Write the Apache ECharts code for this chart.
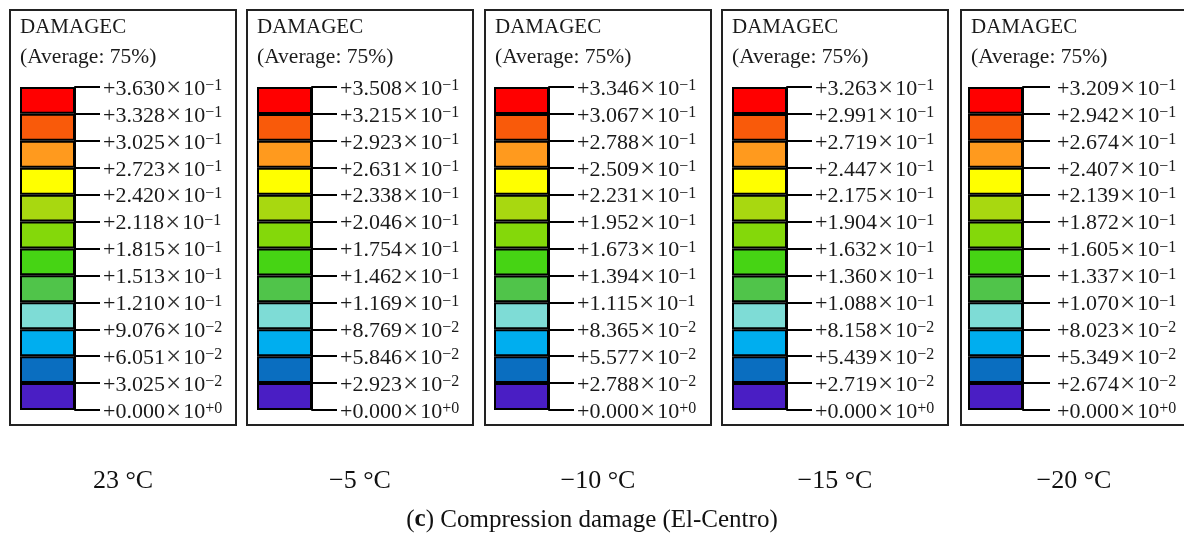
<!DOCTYPE html>
<html><head><meta charset="utf-8">
<script src="https://cdn.jsdelivr.net/npm/echarts@6/dist/echarts.min.js"></script>
<style>html,body{margin:0;padding:0;background:#fff}#c{width:1184px;height:545px}</style>
</head><body><div id="c"></div>
<script>
// ---- data ----
const temperatures = ['23 °C', '\u22125 °C', '\u221210 °C', '\u221215 °C', '\u221220 °C'];
const legendTitle = 'DAMAGEC';
const legendSub = '(Average: 75%)';
// contour level boundaries (bottom to top) for each temperature
const levels23 = [0, 3.025e-2, 6.051e-2, 9.076e-2, 1.210e-1, 1.513e-1, 1.815e-1, 2.118e-1, 2.420e-1, 2.723e-1, 3.025e-1, 3.328e-1, 3.630e-1];
const levelsM5 = [0, 2.923e-2, 5.846e-2, 8.769e-2, 1.169e-1, 1.462e-1, 1.754e-1, 2.046e-1, 2.338e-1, 2.631e-1, 2.923e-1, 3.215e-1, 3.508e-1];
const levelsM10 = [0, 2.788e-2, 5.577e-2, 8.365e-2, 1.115e-1, 1.394e-1, 1.673e-1, 1.952e-1, 2.231e-1, 2.509e-1, 2.788e-1, 3.067e-1, 3.346e-1];
const levelsM15 = [0, 2.719e-2, 5.439e-2, 8.158e-2, 1.088e-1, 1.360e-1, 1.632e-1, 1.904e-1, 2.175e-1, 2.447e-1, 2.719e-1, 2.991e-1, 3.263e-1];
const levelsM20 = [0, 2.674e-2, 5.349e-2, 8.023e-2, 1.070e-1, 1.337e-1, 1.605e-1, 1.872e-1, 2.139e-1, 2.407e-1, 2.674e-1, 2.942e-1, 3.209e-1];
const levelSets = [levels23, levelsM5, levelsM10, levelsM15, levelsM20];
// band colours, bottom to top
const bandColors = ['#4A1EC4', '#0A6EC0', '#00AEEF', '#7EDCD6', '#50C44A', '#46D414', '#84D80A', '#A8D810', '#FFFF00', '#FF9A1E', '#F95A0A', '#FF0000'];

// ---- layout ----
const panelLefts = [10, 247, 485, 722, 961];
const panelW = 226, panelTop = 10, panelBottom = 425;
const barOffset = [10, 10, 9, 10, 7];
const barW = 55, barTop = 87, barH = 323;
const serif = '"Liberation Serif", "Times New Roman", serif';

const chart = echarts.init(document.getElementById('c'));
const grids = [], xAxes = [], yAxes = [], series = [], graphics = [];

function fmt(v) {
  const parts = v.toExponential(3).split('e');
  const e = parts[1].replace('-', '\u2212');
  return '{m|+' + parts[0] + '}{x|\u00D7}{m|10}{s|' + e + '}';
}

levelSets.forEach((lv, p) => {
  const max = lv[lv.length - 1];
  const interval = max / 12;
  const tickLen = p === 4 ? 27 : 25;
  grids.push({ left: panelLefts[p] + barOffset[p], top: barTop, width: barW, height: barH, containLabel: false, outerBoundsMode: 'none' });
  xAxes.push({ type: 'category', gridIndex: p, data: [legendTitle], show: false });
  yAxes.push({
    type: 'value', gridIndex: p, position: 'right', min: 0, max: max, interval: interval,
    axisLine: { show: true, lineStyle: { color: '#000', width: 2 } },
    axisTick: { show: true, inside: false, length: tickLen, lineStyle: { color: '#000', width: 2 } },
    splitLine: { show: false },
    axisLabel: {
      margin: tickLen + (p === 4 ? 7 : 3),
      padding: [4, 0, 0, 0],
      formatter: function (v) { return fmt(lv[Math.round(v / interval)]); },
      rich: {
        m: { fontFamily: serif, fontSize: 22, color: '#1a1a1a', lineHeight: 22 },
        x: { fontFamily: serif, fontSize: 27, color: '#333', lineHeight: 22, padding: [0, 2, 0, 1] },
        s: { fontFamily: serif, fontSize: 16, color: '#1a1a1a', lineHeight: 15, verticalAlign: 'top' }
      }
    }
  });
  for (let k = 0; k < 12; k++) {
    series.push({
      type: 'bar', xAxisIndex: p, yAxisIndex: p, stack: 'p' + p, barWidth: '100%',
      data: [lv[k + 1] - lv[k]],
      itemStyle: { color: bandColors[k], borderColor: '#000', borderWidth: 2 },
      silent: true, animation: false
    });
  }
  const L = panelLefts[p];
  graphics.push({ type: 'rect', shape: { x: L, y: panelTop, width: panelW, height: panelBottom - panelTop },
    style: { fill: 'none', stroke: '#222', lineWidth: 2 } });
  graphics.push({ type: 'text', x: L + 10, y: 27, style: { text: legendTitle, fontFamily: serif, fontSize: 21, fill: '#1a1a1a', verticalAlign: 'middle' } });
  graphics.push({ type: 'text', x: L + 10, y: 57, style: { text: legendSub, fontFamily: serif, fontSize: 21.5, fill: '#1a1a1a', verticalAlign: 'middle' } });
  graphics.push({ type: 'text', x: L + panelW / 2, y: 481, style: { text: temperatures[p], fontFamily: serif, fontSize: 26, fill: '#111', align: 'center', verticalAlign: 'middle' } });
});

graphics.push({ type: 'text', x: 592, y: 520, style: {
  text: '{n|(}{b|c}{n|) Compression damage (El-Centro)}',
  align: 'center', verticalAlign: 'middle',
  rich: { n: { fontFamily: serif, fontSize: 25, fill: '#111' }, b: { fontFamily: serif, fontSize: 25, fontWeight: 'bold', fill: '#111' } }
} });

chart.setOption({
  animation: false,
  grid: grids, xAxis: xAxes, yAxis: yAxes, series: series, graphic: graphics
});
</script></body></html>
